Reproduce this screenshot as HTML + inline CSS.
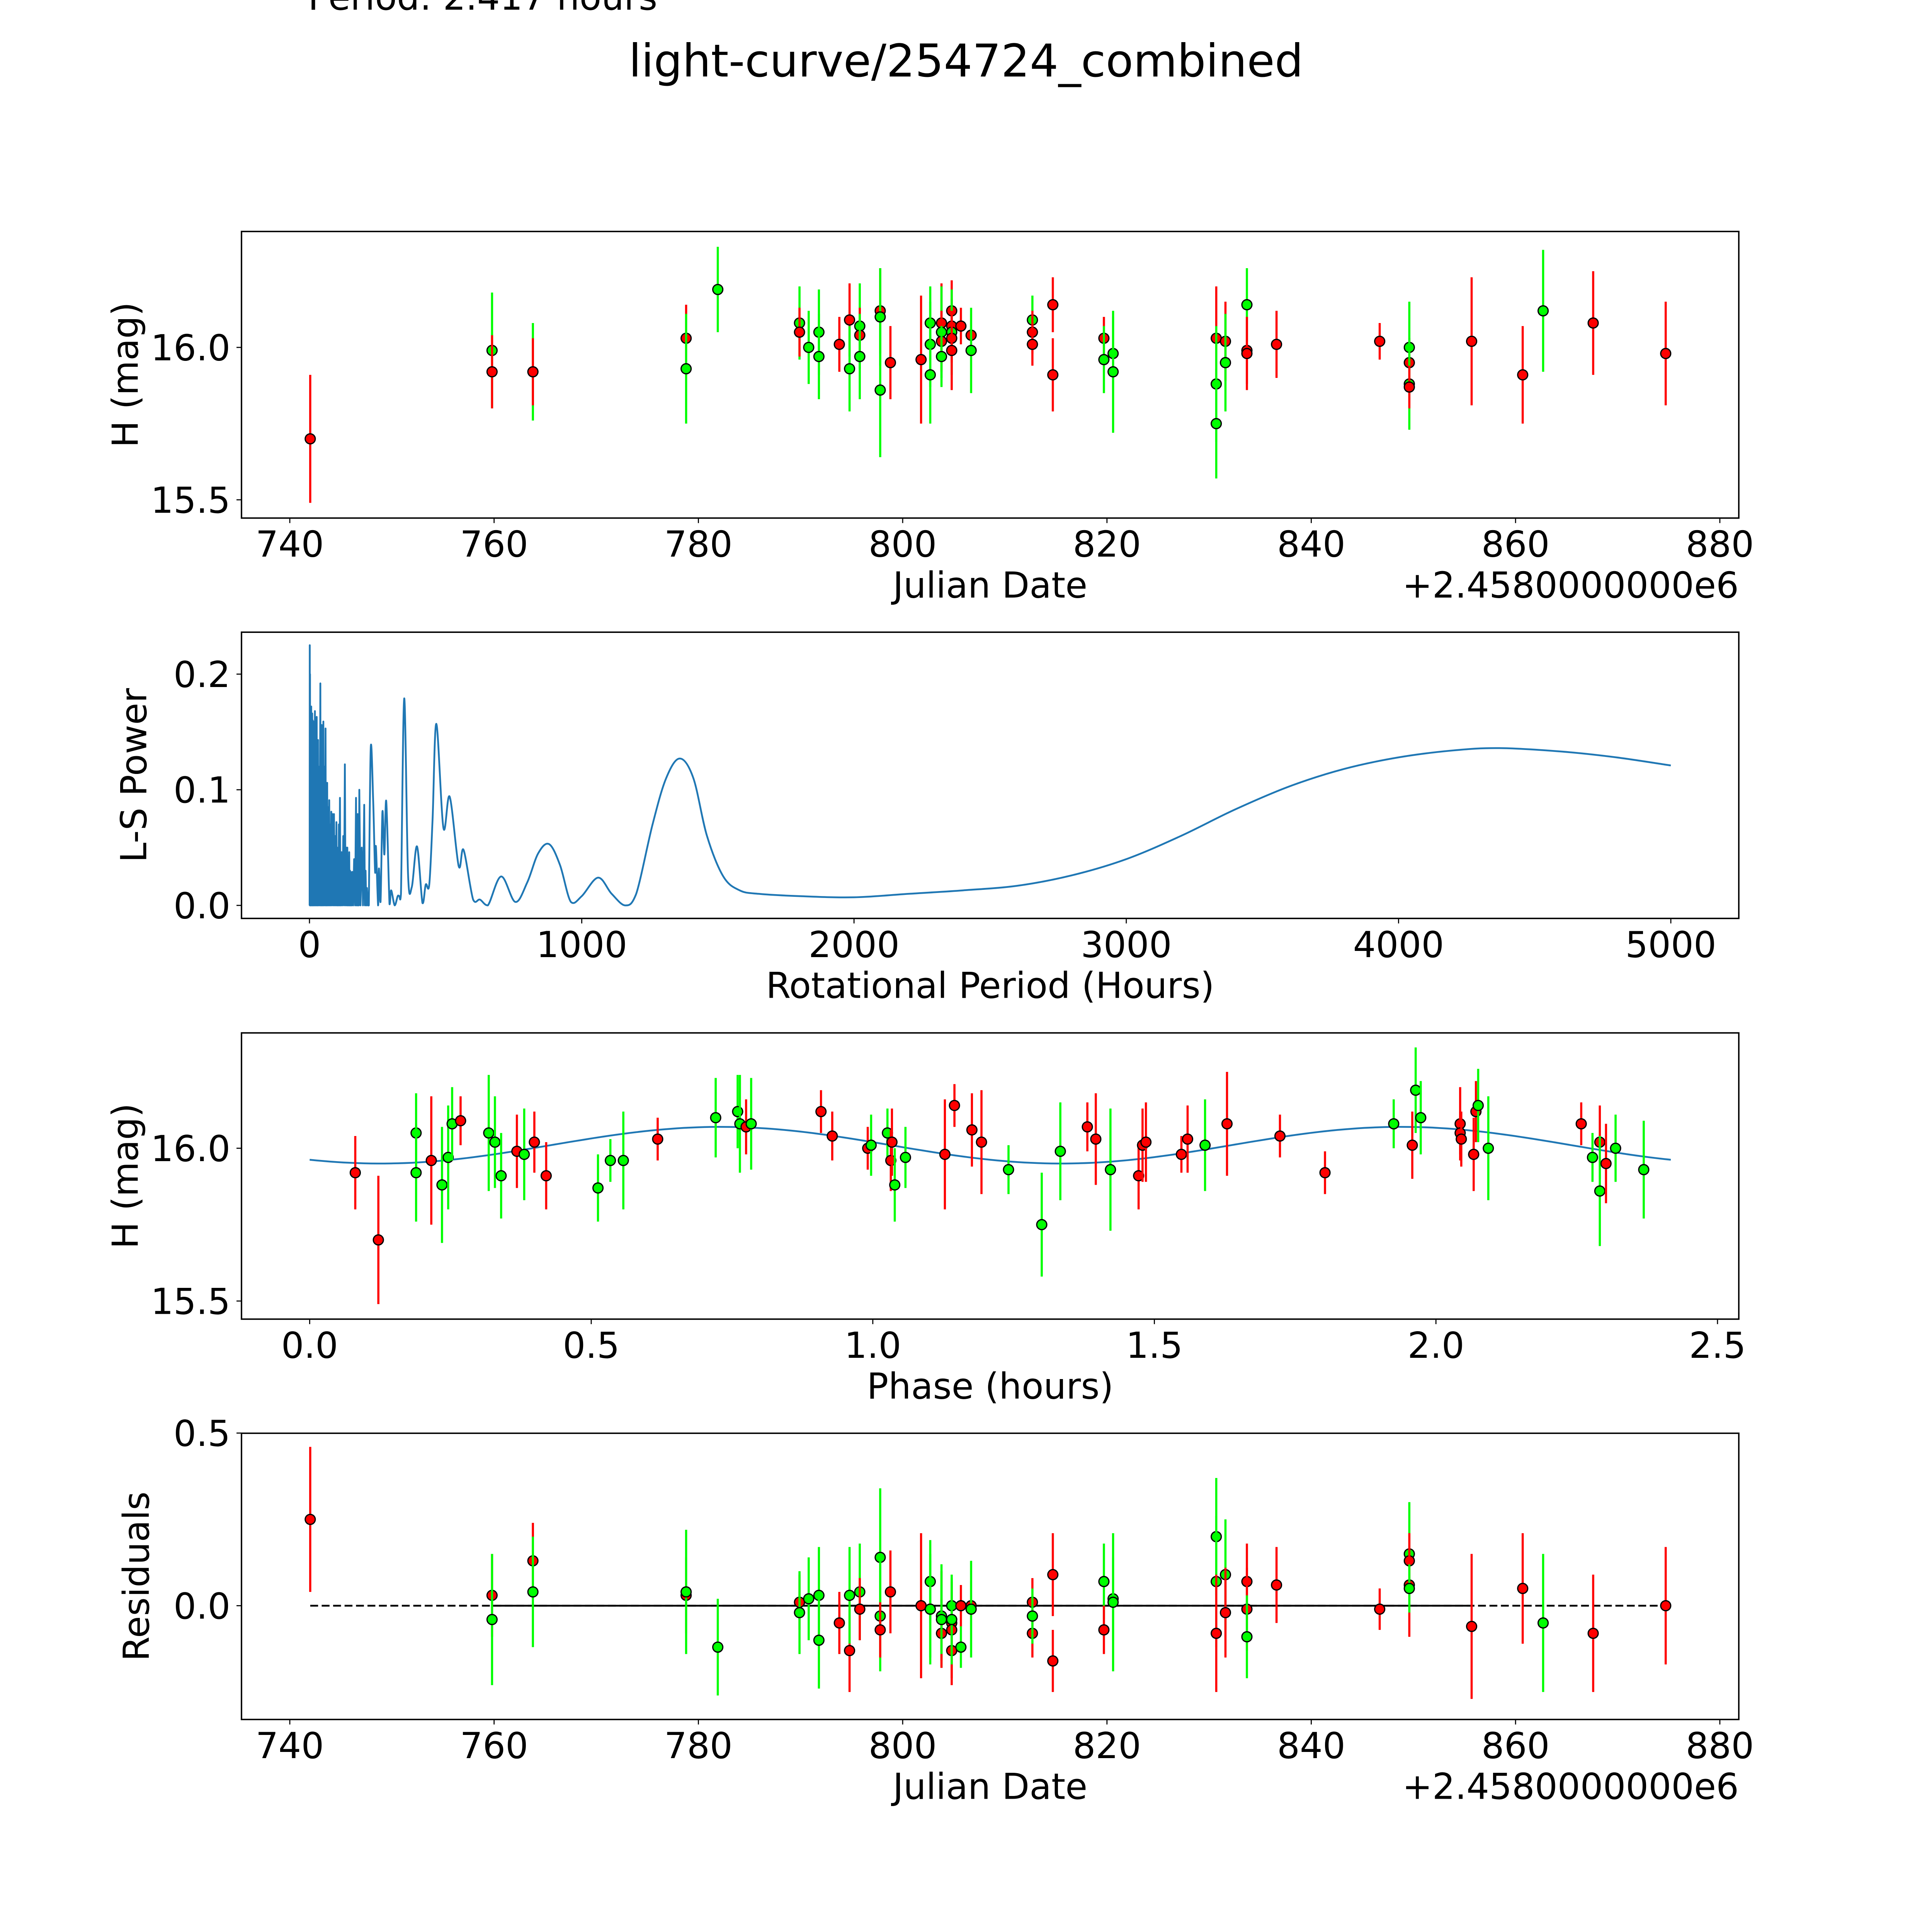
<!DOCTYPE html>
<html><head><meta charset="utf-8"><style>
html,body{margin:0;padding:0;background:#fff;width:100%;height:100%;overflow:hidden}
svg{display:block;width:100vw;height:100vh}
text{font-family:"DejaVu Sans","Liberation Sans",sans-serif;fill:#000}
</style></head><body>
<svg id="fig" xmlns="http://www.w3.org/2000/svg" viewBox="0 0 5400 5400" preserveAspectRatio="none">
<rect width="5400" height="5400" fill="#fff"/>
<text x="861" y="27" font-size="100">Period: 2.417 hours</text>
<text x="2700" y="214" font-size="126" text-anchor="middle">light-curve/254724_combined</text>
<g id="layer"></g>
</svg>
<script>
// ---- Panel 1: light curve ----
const lcDates = [742,759.8,759.8,763.8,763.8,778.8,778.8,781.9,789.9,789.9,790.8,791.8,791.8,793.8,794.8,794.8,795.8,795.8,795.8,797.8,797.8,797.8,798.8,801.8,802.7,802.7,802.7,803.8,803.8,803.8,803.8,804.8,804.8,804.8,804.8,804.8,805.7,806.7,806.7,812.7,812.7,812.7,814.7,814.7,819.7,819.7,820.6,820.6,830.7,830.7,830.7,831.6,831.6,833.7,833.7,833.7,836.6,846.7,849.6,849.6,849.6,849.6,855.7,860.7,862.7,867.6,874.7];
const lcMags = [15.70,15.99,15.92,15.92,15.92,16.03,15.93,16.19,16.08,16.05,16.00,16.05,15.97,16.01,16.09,15.93,16.07,16.04,15.97,16.12,16.10,15.86,15.95,15.96,16.08,16.01,15.91,16.08,16.05,16.02,15.97,16.12,16.07,16.05,16.03,15.99,16.07,16.04,15.99,16.09,16.05,16.01,16.14,15.91,16.03,15.96,15.98,15.92,16.03,15.88,15.75,16.02,15.95,16.14,15.99,15.98,16.01,16.02,16.00,15.95,15.88,15.87,16.02,15.91,16.12,16.08,15.98];
const lcErrs = [0.21,0.19,0.12,0.16,0.11,0.11,0.18,0.14,0.12,0.08,0.12,0.14,0.14,0.09,0.12,0.14,0.14,0.09,0.14,0.14,0.16,0.22,0.12,0.21,0.12,0.14,0.16,0.13,0.15,0.10,0.10,0.10,0.09,0.14,0.08,0.13,0.06,0.07,0.14,0.08,0.07,0.07,0.09,0.12,0.07,0.11,0.12,0.20,0.17,0.19,0.18,0.13,0.16,0.12,0.11,0.12,0.11,0.06,0.15,0.08,0.15,0.07,0.21,0.16,0.20,0.17,0.17];
const lcColors = ["r","g","r","g","r","r","g","g","g","r","g","g","g","r","r","g","g","r","g","r","g","g","r","r","g","g","g","r","g","r","g","r","r","g","r","r","r","r","g","g","r","r","r","r","r","g","g","g","r","g","g","r","g","g","r","r","r","r","g","r","g","r","r","r","g","r","r"];
const dateTicks = [740,760,780,800,820,840,860,880];

// ---- Panel 2: periodogram ----
const spikePeriods = [1,2,3,4,6.5,8,10,12,14,17,
  20,23,26.5,29,31.5,35,40,42,45,48,
  51,55,59,62,65,68,72.5,76,80,85,
  90,94,99,102,105,108,112,115,118,124,
  130,135,139,142,146,149,151,154,157,164,
  171,174,177,180,183,192,201,206,211];
const spikePowers = [0.225,0.2,0.17,0.165,0.172,0.15,0.166,0.16,0.159,0.15,
  0.168,0.155,0.163,0.14,0.143,0.12,0.192,0.13,0.156,0.14,
  0.159,0.12,0.153,0.1,0.106,0.085,0.091,0.07,0.081,0.079,
  0.079,0.06,0.072,0.05,0.039,0.07,0.093,0.04,0.046,0.06,
  0.122,0.05,0.05,0.03,0.046,0.03,0.029,0.025,0.029,0.04,
  0.093,0.06,0.079,0.05,0.1,0.05,0.087,0.03,0.015];
const tailPeriods = [218,225,234,241,244,252,255,261,268,275,
  282,294,300,313,324,330,336,348,362,376,
  395,415,427,440,452,466,492,515,548,566,
  601,626,655,704,756,800,840,880,920,960,
  1000,1060,1110,1160,1200,1260,1310,1360,1410,1460,
  1520,1580,1650,1800,2000,2200,2400,2600,2800,3000,
  3200,3400,3600,3800,4000,4200,4370,4600,4800,5000];
const tailPowers = [0,0.136,0.09,0.029,0.051,0,0.032,0.003,0.081,0.044,
  0.09,0.001,0.013,0,0.008,0.008,0.01,0.179,0.027,0.016,
  0.051,0.002,0.018,0.018,0.074,0.157,0.067,0.094,0.034,0.048,
  0.005,0.005,0,0.025,0.003,0.02,0.045,0.053,0.035,0.003,
  0.008,0.024,0.01,0,0.01,0.07,0.11,0.127,0.11,0.06,
  0.025,0.013,0.01,0.008,0.007,0.01,0.013,0.017,0.026,0.04,
  0.06,0.083,0.103,0.118,0.128,0.134,0.136,0.133,0.128,0.121];
const periodTicks = [0,1000,2000,3000,4000,5000];
const powerTicks = [0.0,0.1,0.2];

// ---- Panel 3: phased ----
const phPhases = [0.081,0.122,0.189,0.189,0.216,0.235,0.246,0.253,0.268,0.318,0.329,0.340,0.368,0.381,0.399,0.420,0.512,0.534,0.557,0.618,0.721,0.760,0.764,0.775,0.784,0.908,0.928,0.991,0.997,1.026,1.032,1.034,1.039,1.058,1.128,1.145,1.176,1.193,1.241,1.300,1.333,1.381,1.396,1.422,1.472,1.479,1.485,1.548,1.559,1.590,1.629,1.723,1.803,1.925,1.958,1.964,1.973,2.043,2.043,2.045,2.067,2.071,2.075,2.093,2.258,2.278,2.291,2.291,2.302,2.319,2.369];
const phMags = [15.92,15.70,16.05,15.92,15.96,15.88,15.97,16.08,16.09,16.05,16.02,15.91,15.99,15.98,16.02,15.91,15.87,15.96,15.96,16.03,16.10,16.12,16.08,16.07,16.08,16.12,16.04,16.00,16.01,16.05,15.96,16.02,15.88,15.97,15.98,16.14,16.06,16.02,15.93,15.75,15.99,16.07,16.03,15.93,15.91,16.01,16.02,15.98,16.03,16.01,16.08,16.04,15.92,16.08,16.01,16.19,16.10,16.08,16.05,16.03,15.98,16.12,16.14,16.00,16.08,15.97,16.02,15.86,15.95,16.00,15.93];
const phErrs = [0.12,0.21,0.13,0.16,0.21,0.19,0.17,0.12,0.08,0.19,0.15,0.14,0.12,0.15,0.10,0.11,0.11,0.07,0.16,0.07,0.13,0.12,0.16,0.09,0.15,0.07,0.08,0.07,0.10,0.08,0.10,0.11,0.12,0.10,0.18,0.07,0.12,0.17,0.08,0.17,0.16,0.08,0.15,0.20,0.11,0.12,0.13,0.06,0.11,0.15,0.17,0.07,0.07,0.08,0.11,0.14,0.12,0.12,0.07,0.09,0.12,0.10,0.12,0.17,0.07,0.08,0.12,0.18,0.13,0.11,0.16];
const phColors = ["r","r","g","g","r","g","g","g","r","g","g","g","r","g","r","r","g","g","g","r","g","g","g","r","g","r","r","r","g","g","r","r","g","g","r","r","r","r","g","g","g","r","r","g","r","r","r","r","r","g","r","r","r","g","r","g","g","r","r","r","r","r","g","g","r","g","r","g","r","g","g"];
const modelParams = [16.01, 0.06, 0.73, 1.2085, 2.417]; // mean, amplitude, peak phase, sub-period, period
const phaseTicks = [0.0,0.5,1.0,1.5,2.0,2.5];
const magTicks = [16.0,15.5];

// ---- Panel 4: residuals ----
const resDates = [742,759.8,759.8,763.8,763.8,778.8,778.8,781.9,789.9,789.9,790.8,791.8,791.8,793.8,794.8,794.8,795.8,795.8,797.8,797.8,797.8,798.8,801.8,802.7,802.7,802.7,803.8,803.8,803.8,803.8,804.8,804.8,804.8,804.8,804.8,805.7,805.7,806.7,806.7,812.7,812.7,812.7,814.7,814.7,819.7,819.7,820.6,820.6,830.7,830.7,830.7,831.6,831.6,833.7,833.7,833.7,836.6,846.7,849.6,849.6,849.6,849.6,855.7,860.7,862.7,867.6,874.7];
const resVals = [0.25,0.03,-0.04,0.13,0.04,0.03,0.04,-0.12,0.01,-0.02,0.02,0.03,-0.10,-0.05,-0.13,0.03,0.04,-0.01,0.14,-0.03,-0.07,0.04,0.00,0.07,-0.01,-0.01,-0.03,-0.03,-0.08,-0.04,-0.13,-0.05,-0.07,0.00,-0.04,0.00,-0.12,0.00,-0.01,0.01,-0.08,-0.03,0.09,-0.16,0.07,-0.07,0.02,0.01,0.20,0.07,-0.08,0.09,-0.02,0.07,-0.01,-0.09,0.06,-0.01,0.15,0.13,0.06,0.05,-0.06,0.05,-0.05,-0.08,0.00];
const resErrs = [0.21,0.12,0.19,0.11,0.16,0.11,0.18,0.14,0.08,0.12,0.12,0.14,0.14,0.09,0.12,0.14,0.14,0.09,0.2,0.16,0.08,0.12,0.21,0.12,0.14,0.16,0.13,0.15,0.10,0.10,0.10,0.09,0.14,0.08,0.13,0.06,0.06,0.07,0.14,0.07,0.07,0.08,0.12,0.09,0.11,0.07,0.12,0.20,0.17,0.19,0.17,0.16,0.13,0.11,0.12,0.12,0.11,0.06,0.15,0.08,0.15,0.07,0.21,0.16,0.20,0.17,0.17];
const resColors = ["r","r","g","r","g","r","g","g","r","g","g","g","g","r","r","g","g","r","g","g","r","r","r","g","g","g","r","g","r","g","r","r","r","g","g","r","g","r","g","r","r","g","r","r","g","r","g","g","g","g","r","g","r","r","r","g","r","r","g","r","r","g","r","r","g","r","r"];
const resTicks = [0.5,0.0];

const NS = "http://www.w3.org/2000/svg";
const layer = document.getElementById('layer');
function mk(tag, attrs, parent) {
  const el = document.createElementNS(NS, tag);
  for (const k in attrs) el.setAttribute(k, attrs[k]);
  (parent || layer).appendChild(el);
  return el;
}
const L = 675, R = 4860;
const panels = [{t:647,b:1448},{t:1767,b:2567},{t:2887,b:3687},{t:4006,b:4806}];
function colorOf(c){ return c === "r" ? "#ff0000" : "#00ff00"; }

const xDate = d => 810 + (d - 740) * 28.55;
const yMag1 = m => 971 - (m - 16.0) * 852;
const xPer = p => 865 + p * 0.761;
const yPow = v => 2530.6 - v * 3232;
const xPh = p => 865.5 + p * 1574;
const yMag3 = m => 3209.4 - (m - 16.0) * 854;
const yRes = r => 4488 - r * 965;

function frame(p, name) {
  const r = mk('rect', {x:L, y:p.t, width:R-L, height:p.b-p.t, fill:'none', stroke:'#000', 'stroke-width':4});
  
  
}
function xticks(p, ticks, fx, fmt, name) {
  ticks.forEach(t => {
    const x = fx(t);
    const l = mk('line', {x1:x, x2:x, y1:p.b, y2:p.b+14, stroke:'#000', 'stroke-width':3});
    
    
    const tx = mk('text', {x:x, y:p.b+108, 'font-size':100, 'text-anchor':'middle'});
    tx.textContent = fmt(t);
    
    
  });
}
function yticks(p, ticks, fy, fmt, name) {
  ticks.forEach(t => {
    const y = fy(t);
    const l = mk('line', {x1:L-14, x2:L, y1:y, y2:y, stroke:'#000', 'stroke-width':3});
    
    
    const tx = mk('text', {x:L-31, y:y+36, 'font-size':100, 'text-anchor':'end'});
    tx.textContent = fmt(t);
    
    
  });
}
function xlabel(p, s, name) {
  const tx = mk('text', {x:(L+R)/2, y:p.b+222, 'font-size':100, 'text-anchor':'middle'});
  tx.textContent = s;
  
  
}
function ylabel(p, s, cx, name) {
  const cy = (p.t+p.b)/2;
  const tx = mk('text', {x:cx, y:cy, 'font-size':100, 'text-anchor':'middle', transform:'rotate(-90 '+cx+' '+cy+')'});
  tx.textContent = s;
  
  
}
function offsetText(p, name) {
  const tx = mk('text', {x:R, y:p.b+222, 'font-size':100, 'text-anchor':'end'});
  tx.textContent = '+2.4580000000e6';
  
  
}
function errPoints(xs, ys, es, cs, fx, fy, name) {
  xs.forEach((xv, i) => {
    const x = fx(xv), col = colorOf(cs[i]);
    const l = mk('line', {x1:x, x2:x, y1:fy(ys[i]-es[i]), y2:fy(ys[i]+es[i]), stroke:col, 'stroke-width':6});
    
    
    const c = mk('circle', {cx:x, cy:fy(ys[i]), r:14, fill:col, stroke:'#000', 'stroke-width':3.5});
    
    
  });
}

// Panel 1
errPoints(lcDates, lcMags, lcErrs, lcColors, xDate, yMag1, 'light-curve');
frame(panels[0], 'light-curve');
xticks(panels[0], dateTicks, xDate, t => String(t), 'date-x');
yticks(panels[0], magTicks, yMag1, t => t.toFixed(1), 'mag-y');
xlabel(panels[0], 'Julian Date', 'light-curve-x-axis-title');
offsetText(panels[0], 'light-curve-offset-text');
ylabel(panels[0], 'H (mag)', 385, 'light-curve-y-axis-title');

// Panel 2: spikes then smooth tail
let d = 'M' + xPer(0.5).toFixed(1) + ' ' + yPow(0).toFixed(1);
spikePeriods.forEach((p, i) => {
  d += 'L' + xPer(p).toFixed(1) + ' ' + yPow(spikePowers[i]).toFixed(1);
  const nxt = i + 1 < spikePeriods.length ? spikePeriods[i+1] : tailPeriods[0];
  d += 'L' + xPer((p + nxt) / 2).toFixed(1) + ' ' + yPow(0).toFixed(1);
});
const tp = tailPeriods.map((p, i) => [xPer(p), yPow(tailPowers[i])]);
d += 'L' + tp[0][0].toFixed(1) + ' ' + tp[0][1].toFixed(1);
for (let i = 0; i < tp.length - 1; i++) {
  const p0 = tp[Math.max(i-1,0)], p1 = tp[i], p2 = tp[i+1], p3 = tp[Math.min(i+2, tp.length-1)];
  const c1x = p1[0] + (p2[0]-p0[0])/6, c1y = p1[1] + (p2[1]-p0[1])/6;
  const c2x = p2[0] - (p3[0]-p1[0])/6, c2y = p2[1] - (p3[1]-p1[1])/6;
  d += 'C' + c1x.toFixed(1) + ' ' + Math.min(c1y, yPow(0)).toFixed(1) + ' ' + c2x.toFixed(1) + ' ' + Math.min(c2y, yPow(0)).toFixed(1) + ' ' + p2[0].toFixed(1) + ' ' + p2[1].toFixed(1);
}
const pl = mk('path', {d:d, fill:'none', stroke:'#1f77b4', 'stroke-width':5, 'stroke-linejoin':'round'});


frame(panels[1], 'periodogram');
xticks(panels[1], periodTicks, xPer, t => String(t), 'period-x');
yticks(panels[1], powerTicks, yPow, t => t.toFixed(1), 'power-y');
xlabel(panels[1], 'Rotational Period (Hours)', 'periodogram-x-axis-title');
ylabel(panels[1], 'L-S Power', 409, 'periodogram-y-axis-title');

// Panel 3
let md = '';
for (let i = 0; i <= 200; i++) {
  const ph = modelParams[4] * i / 200;
  const m = modelParams[0] + modelParams[1] * Math.cos(2*Math.PI*(ph - modelParams[2]) / modelParams[3]);
  md += (i ? 'L' : 'M') + xPh(ph).toFixed(1) + ' ' + yMag3(m).toFixed(1);
}
const ml = mk('path', {d:md, fill:'none', stroke:'#1f77b4', 'stroke-width':5});


errPoints(phPhases, phMags, phErrs, phColors, xPh, yMag3, 'phased');
frame(panels[2], 'phased');
xticks(panels[2], phaseTicks, xPh, t => t.toFixed(1), 'phase-x');
yticks(panels[2], magTicks, yMag3, t => t.toFixed(1), 'phased-mag-y');
xlabel(panels[2], 'Phase (hours)', 'phased-x-axis-title');
ylabel(panels[2], 'H (mag)', 385, 'phased-y-axis-title');

// Panel 4
const zl = mk('line', {x1:xDate(742), x2:xDate(874.7), y1:yRes(0), y2:yRes(0), stroke:'#000', 'stroke-width':5, 'stroke-dasharray':'22 10'});


const zs = mk('line', {x1:xDate(759.8), x2:xDate(855.7), y1:yRes(0), y2:yRes(0), stroke:'#000', 'stroke-width':5});


errPoints(resDates, resVals, resErrs, resColors, xDate, yRes, 'residual');
frame(panels[3], 'residuals');
xticks(panels[3], dateTicks, xDate, t => String(t), 'res-date-x');
yticks(panels[3], resTicks, yRes, t => t.toFixed(1), 'res-y');
xlabel(panels[3], 'Julian Date', 'residuals-x-axis-title');
offsetText(panels[3], 'residuals-offset-text');
ylabel(panels[3], 'Residuals', 416, 'residuals-y-axis-title');
</script>
</body></html>
